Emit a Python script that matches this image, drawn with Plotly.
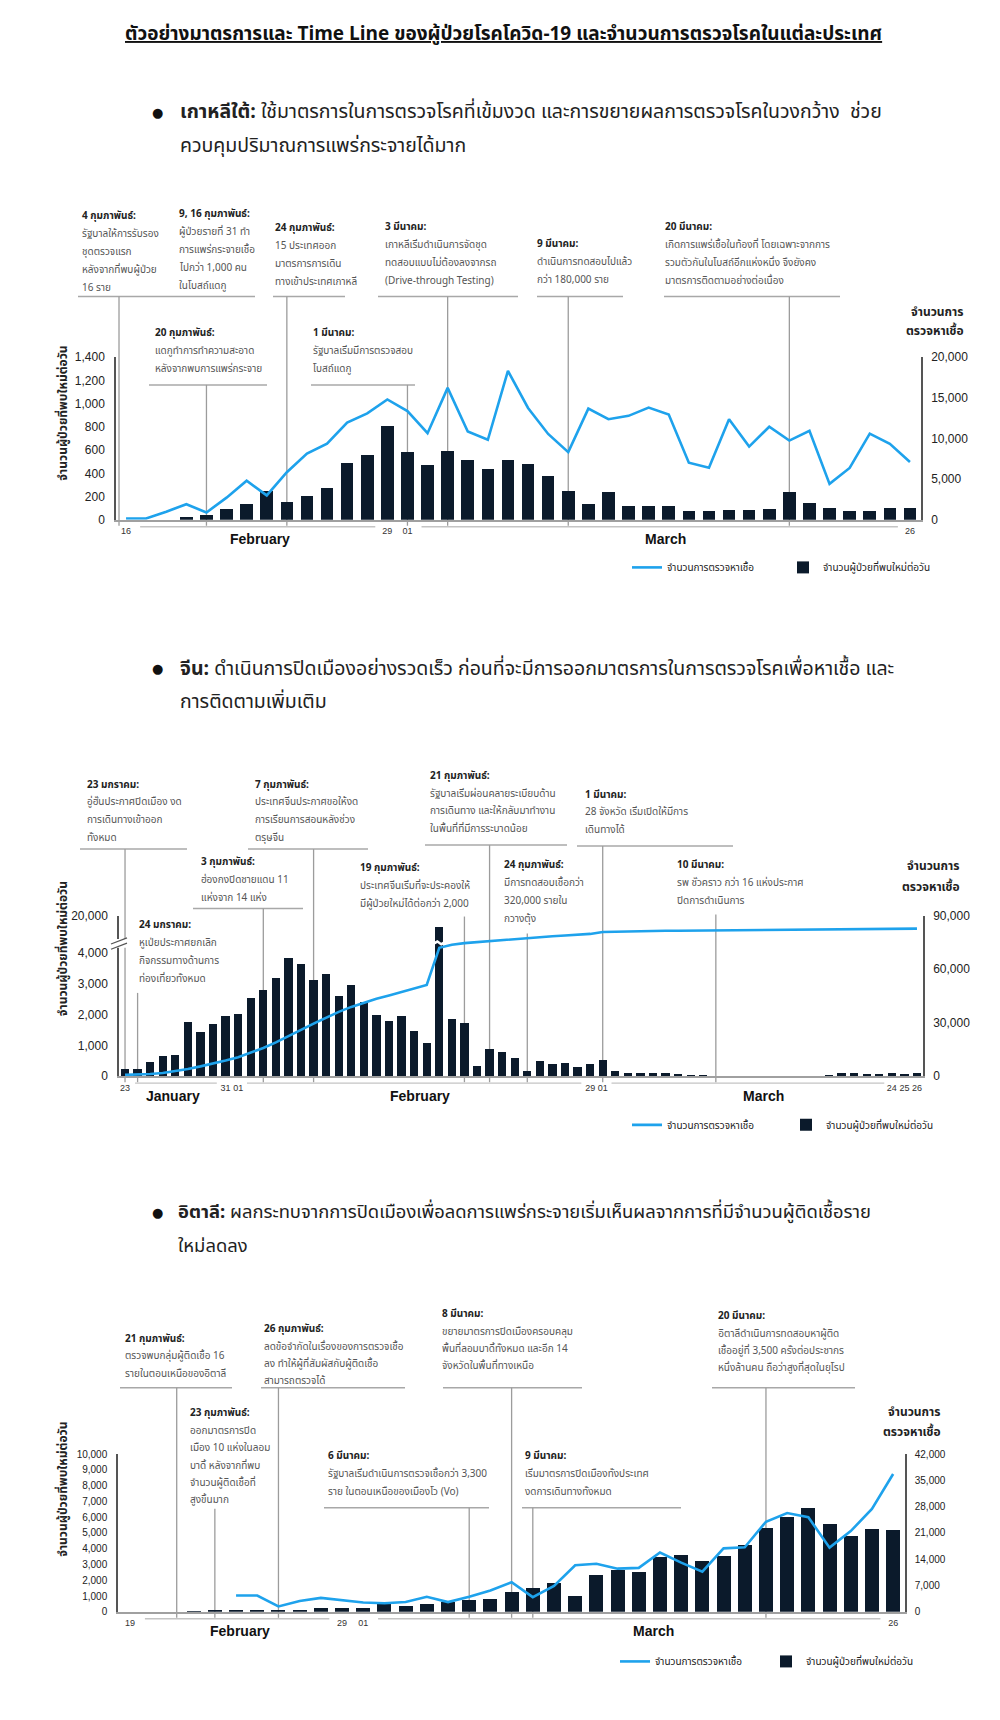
import plotly.graph_objects as go

W, H = 1000, 1720
THAI = "Noto Sans Thai, Tahoma, Noto Sans, sans-serif"
NUM = "Liberation Sans, Arial, sans-serif"
BAR_C = "#0b1a2b"
LINE_C = "#1ea2ec"
GRAY = "#9c9c9c"

# ---------------- data ----------------
legend_tests = "จำนวนการตรวจหาเชื้อ"
legend_cases = "จำนวนผู้ป่วยที่พบใหม่ต่อวัน"

# South Korea: 16 Feb .. 26 Mar (index 0..39)
kr_cases = [0, 0, 0, 20, 40, 91, 134, 245, 156, 208, 276, 489, 560, 808, 580, 467, 589, 512, 432, 512,
            478, 372, 247, 131, 239, 116, 116, 116, 77, 77, 85, 85, 94, 239, 145, 99, 71, 77, 99, 99]
kr_tests = [160, 160, 1000, 1910, 900, 2720, 4800, 3000, 5850, 8130, 9350, 11950, 13090, 14800, 13370,
            10650, 16220, 10850, 9840, 18300, 13750, 10550, 8320, 13670, 12370, 12780, 13790, 12940,
            7020, 6410, 12370, 9000, 11440, 9740, 10950, 4420, 6370, 10590, 9330, 7100]
kr_tick_pos = [0, 13, 14, 39]
kr_tick_text = ["16", "29", "01", "26"]

# China: 23 Jan .. 26 Mar (index 0..63)
cn_cases = [247, 247, 473, 667, 720, 1774, 1452, 1700, 1968, 2054,
            2559, 2817, 3194, 3871, 3667, 3140, 3355, 2613, 2978, 2441,
            2000, 1806, 1968, 1473, 1086, 15152, 1860, 1742, 355, 892,
            806, 624, 190, 495, 409, 441, 301, 409, 548, 183,
            108, 108, 129, 129, 75, 54, 54, 0, 0, 0,
            0, 0, 0, 0, 0, 0, 43, 108, 108, 75,
            75, 129, 86, 108]
cn_tests = [740, 920, 1290, 1840, 2760, 4050, 5520, 6990, 8830, 10670,
            13070, 15830, 18960, 22270, 25950, 29450, 32760, 36070, 38830, 41230,
            43430, 45270, 47120, 48960, 51160, 71960, 73620, 74540, 75090, 75640,
            76590, 76960, 77510, 78060, 78430, 78800, 79350, 79710, 80800, 81000,
            81150, 81250, 81400, 81450, 81500, 81550, 81550, 81600, 81600, 81650,
            81650, 81700, 81750, 81800, 81850, 81900, 81950, 82000, 82050, 82150,
            82300, 82450, 82550, 82650]
cn_tick_pos = [0, 8, 9, 37, 38, 61, 62, 63]
cn_tick_text = ["23", "31", "01", "29", "01", "24", "25", "26"]
cn_left_ticks = [0, 1000, 2000, 3000, 4000, 20000]
cn_left_text = ["0", "1,000", "2,000", "3,000", "4,000", "20,000"]

# Italy: 19 Feb .. 26 Mar (index 0..36)
it_cases = [0, 0, 0, 17, 59, 76, 74, 93, 78, 250,
            238, 240, 566, 342, 466, 587, 769, 778, 1247, 1492,
            1797, 977, 2313, 2651, 2547, 3497, 3590, 3233, 3526, 4207,
            5322, 5986, 6557, 5560, 4789, 5249, 5210]
it_tests = [None, None, None, None, None, 4345, 4345, 1450, 2900, 3700,
            3000, 2500, 2300, 2600, 4000, 2600, 4000, 5700, 7900, 3900,
            6900, 12400, 12800, 11500, 11700, 15800, 13100, 10700, 16900, 17200,
            24000, 26300, 25200, 17100, 21500, 27400, 36700]
it_tick_pos = [0, 10, 11, 36]
it_tick_text = ["19", "29", "01", "26"]

# broken left axis of the China chart: 0-4,000 linear, then compressed up to 20,000
BREAK_LO, BREAK_HI, BREAK_TOP = 4000, 20000, 5226


def cn_scale(v):
    if v <= BREAK_LO:
        return v
    return BREAK_LO + (v - BREAK_LO) * (BREAK_TOP - BREAK_LO) / (BREAK_HI - BREAK_LO)


def X(px):
    return px / W


def Y(py):
    return 1 - py / H


fig = go.Figure()

# ---------------- traces ----------------
def add_pair(xa, ya_l, ya_r, cases, tests, legend, bar_w):
    idx = list(range(len(cases)))
    fig.add_trace(go.Bar(x=idx, y=cases, width=bar_w, marker=dict(color=BAR_C, line=dict(width=0)),
                         name=legend_cases, xaxis=xa, yaxis=ya_l, legend=legend, legendrank=2))
    fig.add_trace(go.Scatter(x=idx, y=tests, mode="lines", line=dict(color=LINE_C, width=2.6),
                             name=legend_tests, xaxis=xa, yaxis=ya_r, legend=legend, legendrank=1,
                             connectgaps=False))


add_pair("x", "y", "y2", kr_cases, kr_tests, "legend", 0.63)
add_pair("x2", "y3", "y4", [cn_scale(v) for v in cn_cases], cn_tests, "legend2", 0.66)
add_pair("x3", "y5", "y6", it_cases, it_tests, "legend3", 0.66)

# ---------------- axes ----------------
def xax(dom, rng, tv, tt):
    return dict(domain=dom, range=rng, tickvals=tv, ticktext=tt, showgrid=False, zeroline=False,
                showline=True, linecolor="#a0a0a0", linewidth=1.5, ticks="", tickangle=0,
                tickfont=dict(family=NUM, size=9, color="#333"), ticklabelstandoff=2, fixedrange=True)


def yax_l(dom, rng, size=12, **kw):
    d = dict(domain=dom, range=rng, showgrid=False, zeroline=False, showline=True, linecolor="#555",
             linewidth=1.5, ticks="", tickfont=dict(family=NUM, size=size, color="#222"),
             ticklabelstandoff=7, fixedrange=True)
    d.update(kw)
    return d


def yax_r(ov, anchor, rng, size=12, **kw):
    d = dict(overlaying=ov, anchor=anchor, side="right", range=rng, showgrid=False, zeroline=False,
             showline=True, linecolor="#555", linewidth=1.5, ticks="",
             tickfont=dict(family=NUM, size=size, color="#222"), ticklabelstandoff=6, fixedrange=True)
    d.update(kw)
    return d


kr_xd = [X(116), X(921)]
kr_yd = [Y(517), Y(353)]
cn_xd = [X(119), X(923)]
cn_yd = [Y(1078), Y(916)]
it_xd = [X(118), X(905)]
it_yd = [Y(1618), Y(1459)]

fig.update_layout(
    xaxis=xax(kr_xd, [-0.5, 39.55], kr_tick_pos, kr_tick_text) | dict(anchor="y"),
    yaxis=yax_l(kr_yd, [0, 1400], dtick=200, tickformat=",d", anchor="x"),
    yaxis2=yax_r("y", "x", [0, 20000], dtick=5000, tickformat=",d"),
    xaxis2=xax(cn_xd, [-0.48, 63.48], cn_tick_pos, cn_tick_text) | dict(anchor="y3"),
    yaxis3=yax_l(cn_yd, [0, BREAK_TOP], tickvals=[cn_scale(v) for v in cn_left_ticks],
                 ticktext=cn_left_text, anchor="x2"),
    yaxis4=yax_r("y3", "x2", [0, 90000], dtick=30000, tickformat=",d"),
    xaxis3=xax(it_xd, [-0.57, 36.56], it_tick_pos, it_tick_text) | dict(anchor="y5"),
    yaxis5=yax_l(it_yd, [0, 10000], size=10, dtick=1000, tickformat=",d", anchor="x3"),
    yaxis6=yax_r("y5", "x3", [0, 42000], size=10, dtick=7000, tickformat=",d"),
)

# ---------------- legends ----------------
def leg(xp, yp, ew):
    return dict(orientation="h", x=X(xp), y=Y(yp), xanchor="left", yanchor="middle",
                font=dict(family=THAI, size=10, color="#222"), entrywidth=ew, entrywidthmode="pixels",
                bgcolor="rgba(0,0,0,0)", itemwidth=30, traceorder="normal", itemclick=False)


fig.update_layout(legend=leg(627, 565, 111), legend2=leg(627, 1127, 114), legend3=leg(615, 1668, 106))

ann = []
shapes = []


def text(px, py, s, size=10, color="#333", bold=False, xanchor="left", family=THAI, angle=0):
    ann.append(dict(x=X(px), y=Y(py), xref="paper", yref="paper", text=f"<b>{s}</b>" if bold else s,
                    showarrow=False, xanchor=xanchor, yanchor="middle", textangle=angle,
                    font=dict(family=family, size=size, color=color)))


def box(px, py, lines, dy=18):
    text(px, py, lines[0], size=10, color="#222", bold=True)
    for k, s in enumerate(lines[1:]):
        text(px, py + dy * (k + 1), s, size=10, color="#555")


def hline(x0, x1, py):
    shapes.append(dict(type="line", xref="paper", yref="paper", x0=X(x0), x1=X(x1), y0=Y(py), y1=Y(py),
                       line=dict(color="#a8a8a8", width=1.5), layer="below"))


def vline(xref, xv, top, bottom):
    shapes.append(dict(type="line", xref=xref, yref="paper", x0=xv, x1=xv, y0=Y(bottom), y1=Y(top),
                       line=dict(color=GRAY, width=1.3), layer="below"))


def month_rule(xref, segs, py):
    for a, b in segs:
        shapes.append(dict(type="line", xref=xref, yref="paper", x0=a, x1=b, y0=Y(py), y1=Y(py),
                           line=dict(color="#c4c4c4", width=1.4), layer="below"))


# ---------------- title & bullets ----------------
text(503, 28, "<u>ตัวอย่างมาตรการและ Time Line ของผู้ป่วยโรคโควิด-19 และจำนวนการตรวจโรคในแต่ละประเทศ</u>",
     size=19, color="#111", bold=True, xanchor="center")

bullets = [
    (106, 178, 19.5, "<b>เกาหลีใต้:</b> ใช้มาตรการในการตรวจโรคที่เข้มงวด และการขยายผลการตรวจโรคในวงกว้าง  ช่วย",
     "ควบคุมปริมาณการแพร่กระจายได้มาก"),
    (667, 178, 19.5, "<b>จีน:</b> ดำเนินการปิดเมืองอย่างรวดเร็ว ก่อนที่จะมีการออกมาตรการในการตรวจโรคเพื่อหาเชื้อ และ",
     "การติดตามเพิ่มเติม"),
    (1215, 176, 18.4, "<b>อิตาลี:</b> ผลกระทบจากการปิดเมืองเพื่อลดการแพร่กระจายเริ่มเห็นผลจากการที่มีจำนวนผู้ติดเชื้อราย",
     "ใหม่ลดลง"),
]
for py, tx, fs, l1, l2 in bullets:
    text(157, py, "●", size=13, color="#111", xanchor="center", family="DejaVu Sans")
    text(tx, py, l1, size=fs, color="#222")
    text(tx, py + 34, l2, size=fs, color="#222")

# ---------------- axis titles, month labels ----------------
for cy, t1, t2, xr in [(410, 307, 327, 966), (950, 866, 887, 962), (1495, 1417, 1437, 943)]:
    text(63, cy, "จำนวนผู้ป่วยที่พบใหม่ต่อวัน", size=12, color="#222", bold=True, xanchor="center", angle=-90)
    text(xr, t1, "จำนวนการ", size=12, color="#222", bold=True, xanchor="right")
    text(xr, t2, "ตรวจหาเชื้อ", size=12, color="#222", bold=True, xanchor="right")

for px, py, s in [(260, 536, "February"), (665, 536, "March"),
                  (173, 1098, "January"), (420, 1098, "February"), (763, 1098, "March"),
                  (240, 1637, "February"), (653, 1637, "March")]:
    text(px, py, s, size=14, color="#111", bold=True, xanchor="center", family=NUM)

# month rules under the date labels
month_rule("x", [(0.7, 12.4), (14.7, 38.4)], 524)
month_rule("x2", [(0.8, 7.3), (9.7, 36.3), (38.7, 60.4)], 1085)
month_rule("x3", [(0.7, 9.4), (11.7, 35.4)], 1625)

# ---------------- South Korea timeline ----------------
K = -4  # vertical fine-tune of the Korean timeline block
box(80, 215 + K, ["4 กุมภาพันธ์:", "รัฐบาลให้การรับรอง", "ชุดตรวจแรก", "หลังจากที่พบผู้ป่วย", "16 ราย"])
box(177, 213 + K, ["9, 16 กุมภาพันธ์:", "ผู้ป่วยรายที่ 31 ทำ", "การแพร่กระจายเชื้อ", "ไปกว่า 1,000 คน", "ในโบสถ์แดกู"])
box(273, 227 + K, ["24 กุมภาพันธ์:", "15 ประเทศออก", "มาตรการการเดิน", "ทางเข้าประเทศเกาหลี"])
box(383, 226 + K, ["3 มีนาคม:", "เกาหลีเริ่มดำเนินการจัดชุด", "ทดสอบแบบไม่ต้องลงจากรถ", "(Drive-through Testing)"])
box(535, 243 + K, ["9 มีนาคม:", "ดำเนินการทดสอบไปแล้ว", "กว่า 180,000 ราย"])
box(663, 226 + K, ["20 มีนาคม:", "เกิดการแพร่เชื้อในท้องที่ โดยเฉพาะจากการ", "รวมตัวกันในโบสถ์อีกแห่งหนึ่ง จึงยังคง",
                   "มาตรการติดตามอย่างต่อเนื่อง"])
box(153, 333 + K, ["20 กุมภาพันธ์:", "แดกูทำการทำความสะอาด", "หลังจากพบการแพร่กระจาย"])
box(311, 333 + K, ["1 มีนาคม:", "รัฐบาลเริ่มมีการตรวจสอบ", "โบสถ์แดกู"])
for x0, x1 in [(78, 255), (273, 345), (378, 518), (537, 623), (664, 840)]:
    hline(x0, x1, 296 + K)
for x0, x1 in [(149, 267), (311, 415)]:
    hline(x0, x1, 385 + K)
for xv, top in [(-0.35, 296), (4, 385), (8, 296), (14, 385), (16, 296), (22, 296), (33, 296)]:
    vline("x", xv, top + K, 523)

# ---------------- China timeline ----------------
box(85, 784, ["23 มกราคม:", "อู่ฮั่นประกาศปิดเมือง งด", "การเดินทางเข้าออก", "ทั้งหมด"])
box(253, 784, ["7 กุมภาพันธ์:", "ประเทศจีนประกาศขอให้งด", "การเรียนการสอนหลังช่วง", "ตรุษจีน"])
box(428, 775, ["21 กุมภาพันธ์:", "รัฐบาลเริ่มผ่อนคลายระเบียบด้าน", "การเดินทาง และให้กลับมาทำงาน",
               "ในพื้นที่ที่มีการระบาดน้อย"])
box(583, 794, ["1 มีนาคม:", "28 จังหวัด เริ่มเปิดให้มีการ", "เดินทางได้"])
box(199, 862, ["3 กุมภาพันธ์:", "ฮ่องกงปิดชายแดน 11", "แห่งจาก 14 แห่ง"])
box(358, 868, ["19 กุมภาพันธ์:", "ประเทศจีนเริ่มที่จะประคองให้", "มีผู้ป่วยใหม่ได้ต่อกว่า 2,000"])
box(502, 865, ["24 กุมภาพันธ์:", "มีการทดสอบเชื้อกว่า", "320,000 รายใน", "กวางตุ้ง"])
box(675, 865, ["10 มีนาคม:", "รพ ชั่วคราว กว่า 16 แห่งประกาศ", "ปิดการดำเนินการ"])
box(137, 926, ["24 มกราคม:", "หูเป่ยประกาศยกเลิก", "กิจกรรมทางด้านการ", "ท่องเที่ยวทั้งหมด"])
for x0, x1, py in [(80, 187, 849), (248, 368, 849), (425, 567, 845), (577, 733, 846), (193, 303, 909)]:
    hline(x0, x1, py)
for xv, top in [(0, 849), (15, 849), (29, 845), (38, 846), (11, 909), (27, 917), (32, 934), (47, 915),
                (1, 994)]:
    vline("x2", xv, top, 1084)

# broken-axis marks
shapes.append(dict(type="rect", xref="paper", yref="y3", x0=X(112), x1=X(126), y0=4180, y1=4460,
                   fillcolor="white", line=dict(width=0), layer="above"))
for y0 in (4130, 4300):
    shapes.append(dict(type="line", xref="paper", yref="y3", x0=X(111), x1=X(127), y0=y0, y1=y0 + 200,
                       line=dict(color="#555", width=1.3), layer="above"))
shapes.append(dict(type="path", xref="x2", yref="y3",
                   path="M 24.5,4250 L 24.85,4330 L 25.15,4240 L 25.5,4320 L 25.5,4420 L 25.15,4340 "
                        "L 24.85,4430 L 24.5,4350 Z",
                   fillcolor="white", line=dict(width=0), layer="above"))

# ---------------- Italy timeline ----------------
box(123, 1343, ["21 กุมภาพันธ์:", "ตรวจพบกลุ่มผู้ติดเชื้อ 16", "รายในตอนเหนือของอิตาลี"], dy=17.5)
box(262, 1333, ["26 กุมภาพันธ์:", "ลดข้อจำกัดในเรื่องของการตรวจเชื้อ", "ลง ทำให้ผู้ที่สัมผัสกับผู้ติดเชื้อ",
                "สามารถตรวจได้"], dy=17.5)
box(440, 1318, ["8 มีนาคม:", "ขยายมาตรการปิดเมืองครอบคลุม", "พื้นที่ลอมบาดี้ทั้งหมด และอีก 14",
                "จังหวัดในพื้นที่ทางเหนือ"], dy=17.5)
box(716, 1320, ["20 มีนาคม:", "อิตาลีดำเนินการทดสอบหาผู้ติด", "เชื้ออยู่ที่ 3,500 ครั้งต่อประชากร",
                "หนึ่งล้านคน ถือว่าสูงที่สุดในยุโรป"], dy=17.5)
box(188, 1418, ["23 กุมภาพันธ์:", "ออกมาตรการปิด", "เมือง 10 แห่งในลอม", "บาดี้ หลังจากที่พบ",
                "จำนวนผู้ติดเชื้อที่", "สูงขึ้นมาก"], dy=17.5)
box(326, 1461, ["6 มีนาคม:", "รัฐบาลเริ่มดำเนินการตรวจเชื้อกว่า 3,300", "ราย ในตอนเหนือของเมืองโว (Vo)"], dy=18)
box(523, 1461, ["9 มีนาคม:", "เริ่มมาตรการปิดเมืองทั้งประเทศ", "งดการเดินทางทั้งหมด"], dy=18)
for x0, x1, py in [(120, 232, 1392), (261, 405, 1392), (443, 582, 1392), (712, 855, 1392),
                   (324, 489, 1513), (522, 681, 1513)]:
    hline(x0, x1, py)
for xv, top in [(2.2, 1392), (7, 1392), (18, 1392), (30, 1392), (4, 1514), (16, 1513), (19, 1513)]:
    vline("x3", xv, top, 1624)

fig.update_layout(annotations=ann, shapes=shapes, width=W, height=H, margin=dict(l=0, r=0, t=0, b=0),
                  paper_bgcolor="white", plot_bgcolor="rgba(0,0,0,0)", bargap=0, showlegend=True,
                  font=dict(family=THAI))

fig.write_html("out.html", config={"displayModeBar": False},
               post_script="document.body.style.margin='0';document.body.style.overflow='hidden';")
